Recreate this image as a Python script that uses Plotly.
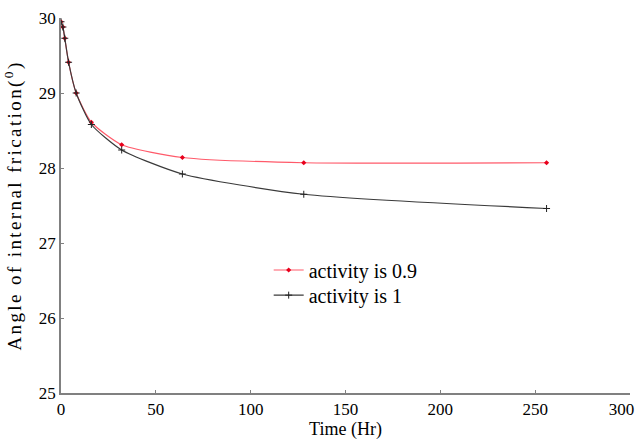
import plotly.graph_objects as go

time_hr = [0, 1, 2, 4, 8, 16, 32, 64, 128, 256]
activity_09 = [29.95, 29.88, 29.73, 29.41, 29.0, 28.61, 28.31, 28.14, 28.07, 28.07]
activity_1 = [29.95, 29.88, 29.73, 29.41, 29.0, 28.58, 28.24, 27.92, 27.65, 27.46]
x_ticks = [0, 50, 100, 150, 200, 250, 300]
x_tick_labels = ["0", "50", "100", "150", "200", "250", "300\u00a0\u00a0\u00a0\u00a0"]
y_ticks = [25, 26, 27, 28, 29, 30]

SERIF = "Liberation Serif"

fig = go.Figure()
fig.add_trace(go.Scatter(
    x=time_hr, y=activity_09, mode="lines+markers", name="activity is 0.9",
    line=dict(color="#ff5a6a", width=1.2, shape="spline", smoothing=0.6),
    marker=dict(symbol="diamond", size=4, color="#e8001c"),
    legend="legend",
))
fig.add_trace(go.Scatter(
    x=time_hr, y=activity_1, mode="lines+markers", name="activity is 1",
    line=dict(color="#3a3a3a", width=1.2, shape="spline", smoothing=0.6),
    marker=dict(symbol="cross-thin", size=5, color="#222222",
                line=dict(width=1, color="#222222")),
    legend="legend2",
))

axis_common = dict(
    showgrid=False, zeroline=False, showline=True, linecolor="#808080",
    linewidth=1.5, ticks="inside", ticklen=3, tickcolor="#808080",
    tickfont=dict(family=SERIF, size=17, color="black"),
    automargin=False, ticklabeloverflow="allow",
)
legend_common = dict(x=0.365, xanchor="left", yanchor="middle",
                     bgcolor="rgba(0,0,0,0)", font=dict(family=SERIF, size=20),
                     itemwidth=30)
fig.update_layout(
    template="none",
    width=638, height=447,
    margin=dict(l=61, r=8, t=18, b=54),
    paper_bgcolor="white", plot_bgcolor="white",
    font=dict(family=SERIF, color="black"),
    xaxis=dict(range=[0, 300], tickvals=x_ticks, ticktext=x_tick_labels,
               title=dict(text="Time (Hr)", font=dict(family=SERIF, size=18), standoff=4),
               **axis_common),
    yaxis=dict(range=[25, 30], tickvals=y_ticks,
               title=dict(text="Angle of internal frication(<sup>0</sup>)",
                          font=dict(family=SERIF, size=19), standoff=12),
               **axis_common),
    legend=dict(y=0.328, **legend_common),
    legend2=dict(y=0.261, **legend_common),
    showlegend=True,
)
post = """
document.body.style.margin='0';
document.body.style.overflow='hidden';
document.querySelectorAll('.ytitle').forEach(function(e){e.style.letterSpacing='2.4px';});
"""
fig.write_html("out.html", config={"displayModeBar": False}, post_script=post)
